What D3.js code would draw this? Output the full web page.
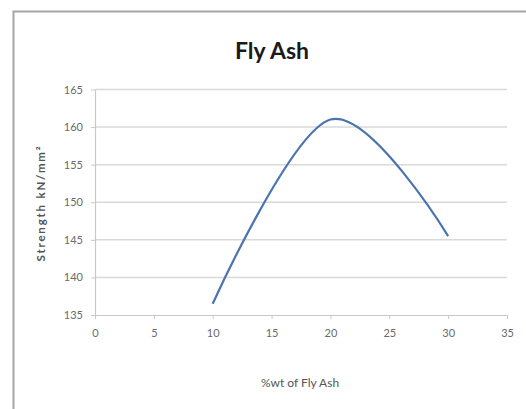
<!DOCTYPE html>
<html>
<head>
<meta charset="utf-8">
<script src="https://cdn.jsdelivr.net/npm/d3@7"></script>
<style>
  html, body { margin: 0; padding: 0; background: #fff; }
  svg { display: block; }
</style>
</head>
<body>
<svg id="chart" width="526" height="409"></svg>
<script>
// Compressive strength against fly ash content
const flyAshPct = [10, 20, 30];
const strength = [136.5, 161, 145.5];
const xTicks = [0, 5, 10, 15, 20, 25, 30, 35];
const yTicks = [135, 140, 145, 150, 155, 160, 165];
const titleText = "Fly Ash";
const xLabel = "%wt of Fly Ash";
const yLabel = "Strength kN/mm²";

const svg = d3.select("#chart");
const font = "Lato, 'Open Sans', sans-serif";

// outer frame
svg.append("rect")
  .attr("x", 13.5).attr("y", 11.5)
  .attr("width", 540).attr("height", 420)
  .attr("fill", "#fff")
  .attr("stroke", "#a6a6a6")
  .attr("stroke-width", 2);

const x = d3.scaleLinear().domain([0, 35]).range([95, 507]);
const y = d3.scaleLinear().domain([135, 165]).range([315, 89.5]);

// horizontal gridlines
svg.append("g")
  .selectAll("line")
  .data(yTicks.filter(v => v !== 135))
  .join("line")
  .attr("x1", x(0)).attr("x2", x(35))
  .attr("y1", d => y(d)).attr("y2", d => y(d))
  .attr("stroke", "#d9d9d9")
  .attr("stroke-width", 1.5);

// y axis
const yAxis = svg.append("g")
  .attr("transform", `translate(${x(0)},0)`)
  .call(d3.axisLeft(y).tickValues(yTicks).tickSize(4).tickPadding(8).tickSizeOuter(0));

// x axis
const xAxis = svg.append("g")
  .attr("transform", `translate(0,${y(135)})`)
  .call(d3.axisBottom(x).tickValues(xTicks).tickSize(4).tickPadding(10).tickSizeOuter(0));

[yAxis, xAxis].forEach(ax => {
  ax.select(".domain").attr("stroke", "#c8c8c8").attr("stroke-width", 1.2);
  ax.selectAll(".tick line").attr("stroke", "#c8c8c8");
  ax.selectAll(".tick text")
    .attr("fill", "#6a6a6a")
    .style("font-family", font)
    .style("font-size", "11px");
});

// strength curve
const line = d3.line()
  .x((d, i) => x(flyAshPct[i]))
  .y(d => y(d))
  .curve(d3.curveCardinal.tension(0));

svg.append("path")
  .datum(strength)
  .attr("d", line)
  .attr("fill", "none")
  .attr("stroke", "#4a74b0")
  .attr("stroke-width", 2.2);

// title
svg.append("text")
  .attr("x", 272).attr("y", 59)
  .attr("text-anchor", "middle")
  .attr("fill", "#1a1a1a")
  .style("font-family", font)
  .style("font-weight", "bold")
  .style("font-size", "23px")
  .text(titleText);

// axis titles
svg.append("text")
  .attr("x", 300).attr("y", 387)
  .attr("text-anchor", "middle")
  .attr("fill", "#555")
  .style("font-family", font)
  .style("font-size", "12px")
  .text(xLabel);

svg.append("text")
  .attr("transform", "translate(45,203) rotate(-90)")
  .attr("text-anchor", "middle")
  .attr("fill", "#555")
  .style("font-family", font)
  .style("font-weight", "bold")
  .style("font-size", "11.5px")
  .style("letter-spacing", "1.8px")
  .text(yLabel);
</script>
</body>
</html>
